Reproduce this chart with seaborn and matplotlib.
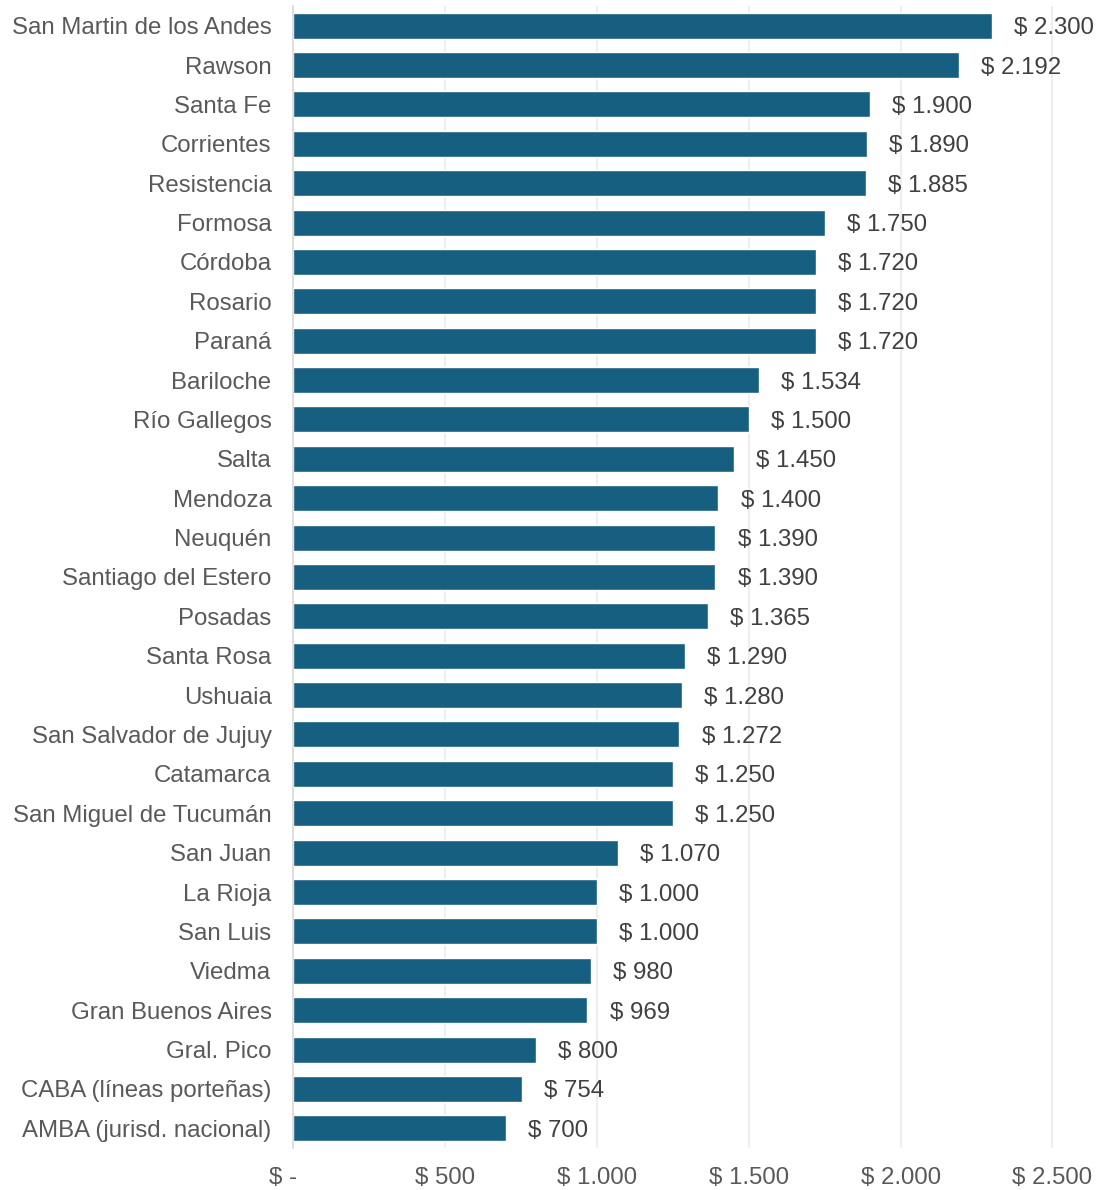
import pandas as pd
import seaborn as sns
import matplotlib.pyplot as plt
from matplotlib.ticker import FuncFormatter

cities = [
    "San Martin de los Andes", "Rawson", "Santa Fe", "Corrientes", "Resistencia",
    "Formosa", "Córdoba", "Rosario", "Paraná", "Bariloche", "Río Gallegos",
    "Salta", "Mendoza", "Neuquén", "Santiago del Estero", "Posadas",
    "Santa Rosa", "Ushuaia", "San Salvador de Jujuy", "Catamarca",
    "San Miguel de Tucumán", "San Juan", "La Rioja", "San Luis", "Viedma",
    "Gran Buenos Aires", "Gral. Pico", "CABA (líneas porteñas)",
    "AMBA (jurisd. nacional)",
]
fares = [
    2300, 2192, 1900, 1890, 1885, 1750, 1720, 1720, 1720, 1534, 1500,
    1450, 1400, 1390, 1390, 1365, 1290, 1280, 1272, 1250, 1250, 1070,
    1000, 1000, 980, 969, 800, 754, 700,
]
x_ticks = [0, 500, 1000, 1500, 2000, 2500]

df = pd.DataFrame({"ciudad": cities, "tarifa": fares})


def peso(v):
    # "$ 1.234" style; accounting-style "$ -" for zero (trailing pad like excel)
    if v == 0:
        return "$ -   "
    return "$ " + f"{int(round(v)):,}".replace(",", ".")


sns.set_style("white")
plt.rcParams["font.family"] = ["Liberation Sans", "DejaVu Sans"]

fig = plt.figure(figsize=(11, 11.9), dpi=100)
ax = fig.add_axes([0.2664, 0.0353, 0.718, 0.9597])

sns.barplot(data=df, x="tarifa", y="ciudad", color="#175f80", saturation=1,
            width=0.66, ax=ax, orient="h")

ax.set_xlim(0, 2600)
ax.set_ylim(len(cities) - 0.5, -0.5)
ax.set_xticks(x_ticks)
ax.xaxis.set_major_formatter(FuncFormatter(lambda v, p: peso(v)))
ax.grid(axis="x", color="#ebebeb", linewidth=1.2)
ax.set_axisbelow(True)
ax.set_xlabel("")
ax.set_ylabel("")
for s in ["top", "right", "bottom"]:
    ax.spines[s].set_visible(False)
ax.spines["left"].set_color("#d9d9d9")
ax.spines["left"].set_linewidth(1.2)
ax.tick_params(axis="both", length=0, labelsize=17.3, labelcolor="#595959")
ax.tick_params(axis="y", pad=15.5)
ax.tick_params(axis="x", pad=14)

for i, v in enumerate(fares):
    ax.annotate(peso(v), xy=(v, i), xytext=(16, 0), textcoords="offset points",
                ha="left", va="center_baseline", fontsize=17.3, color="#404040")

fig.savefig("out.png", dpi=100)
